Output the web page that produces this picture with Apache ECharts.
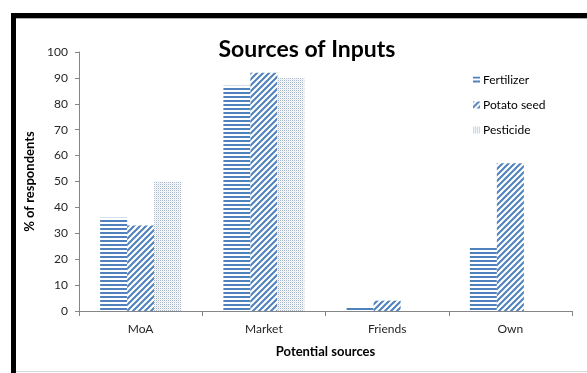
<!DOCTYPE html>
<html>
<head>
<meta charset="utf-8">
<script src="https://cdn.jsdelivr.net/npm/echarts@6/dist/echarts.min.js"></script>
<style>
  html, body { margin: 0; padding: 0; background: #fff; }
  #chart { width: 587px; height: 373px; }
</style>
</head>
<body>
<div id="chart"></div>
<script>
// Categories and values (% of respondents)
const categories = ['MoA', 'Market', 'Friends', 'Own'];
const fertilizer = [36, 87, 1.7, 25];
const potatoSeed = [33, 92, 4, 57];
const pesticide = [50, 90, 0, 0];
const seriesNames = ['Fertilizer', 'Potato seed', 'Pesticide'];
const yTicks = [0, 10, 20, 30, 40, 50, 60, 70, 80, 90, 100];

const BLUE = '#4f81bd';
const FONT = 'Lato, "Open Sans", sans-serif';

// Pattern fills: horizontal stripes, diagonal stripes, fine dots
function makeTile(w, h, draw) {
  const c = document.createElement('canvas');
  c.width = w; c.height = h;
  const ctx = c.getContext('2d');
  ctx.fillStyle = '#ffffff';
  ctx.fillRect(0, 0, w, h);
  draw(ctx);
  return c;
}
const horizTile = makeTile(4, 4, ctx => {
  ctx.fillStyle = BLUE;
  ctx.fillRect(0, 0, 4, 2);
});
const diagTile = makeTile(6, 6, ctx => {
  ctx.strokeStyle = BLUE;
  ctx.lineWidth = 2;
  ctx.beginPath();
  ctx.moveTo(-1, 7); ctx.lineTo(7, -1);
  ctx.moveTo(-4, 4); ctx.lineTo(4, -4);
  ctx.moveTo(2, 10); ctx.lineTo(10, 2);
  ctx.stroke();
});
const dotTile = makeTile(2, 2, ctx => {
  ctx.fillStyle = '#a3b3c9';
  ctx.fillRect(0, 0, 1, 1);
  ctx.fillStyle = '#e2e7ee';
  ctx.fillRect(1, 1, 1, 1);
});
const fills = [horizTile, diagTile, dotTile].map(t => ({ image: t, repeat: 'repeat' }));
const dataSets = [fertilizer, potatoSeed, pesticide];

const chart = echarts.init(document.getElementById('chart'), null, { renderer: 'canvas' });
chart.setOption({
  animation: false,
  backgroundColor: '#ffffff',
  title: {
    text: 'Sources of Inputs',
    left: 302,
    textAlign: 'center',
    top: 33,
    textStyle: { fontFamily: FONT, fontSize: 23, fontWeight: 'bold', color: '#000' }
  },
  legend: {
    orient: 'vertical',
    left: 468,
    top: 69,
    itemWidth: 7,
    itemHeight: 7,
    itemGap: 13,
    icon: 'rect',
    data: seriesNames,
    textStyle: { fontFamily: FONT, fontSize: 12, color: '#000', padding: [0, 0, 0, -2] }
  },
  grid: { left: 79, right: 15, top: 52, bottom: 62, containLabel: false },
  xAxis: {
    type: 'category',
    data: categories,
    name: 'Potential sources',
    nameLocation: 'middle',
    nameGap: 34,
    nameTextStyle: { fontFamily: FONT, fontSize: 13, fontWeight: 'bold', color: '#000' },
    axisLine: { lineStyle: { color: '#868686', width: 1 } },
    axisTick: { show: true, length: 5, lineStyle: { color: '#868686' } },
    axisLabel: { fontFamily: FONT, fontSize: 12, color: '#262626', margin: 12 }
  },
  yAxis: {
    type: 'value',
    min: 0,
    max: 100,
    interval: 10,
    name: '% of respondents',
    nameLocation: 'middle',
    nameGap: 41,
    nameTextStyle: { fontFamily: FONT, fontSize: 13, fontWeight: 'bold', color: '#000' },
    axisLine: { show: true, lineStyle: { color: '#868686', width: 1 } },
    axisTick: { show: true, length: 4, lineStyle: { color: '#868686' } },
    splitLine: { show: false },
    axisLabel: {
      fontFamily: FONT, fontSize: 12, color: '#262626', margin: 11,
      formatter: v => (yTicks.includes(v) ? String(v) : '')
    }
  },
  series: seriesNames.map((name, i) => ({
    name,
    type: 'bar',
    data: dataSets[i],
    barWidth: 27,
    barGap: '0%',
    itemStyle: { color: fills[i] }
  })),
  graphic: [
    { type: 'rect', shape: { x: 11, y: 13, width: 576, height: 5 }, style: { fill: '#000' }, z: 100 },
    { type: 'rect', shape: { x: 11, y: 13, width: 5, height: 360 }, style: { fill: '#000' }, z: 100 },
    { type: 'rect', shape: { x: 16, y: 18, width: 571, height: 1 }, style: { fill: '#b0b0b0' }, z: 100 },
    { type: 'rect', shape: { x: 16, y: 371, width: 571, height: 1 }, style: { fill: '#d8d8d8' }, z: 100 }
  ]
});
</script>
</body>
</html>
